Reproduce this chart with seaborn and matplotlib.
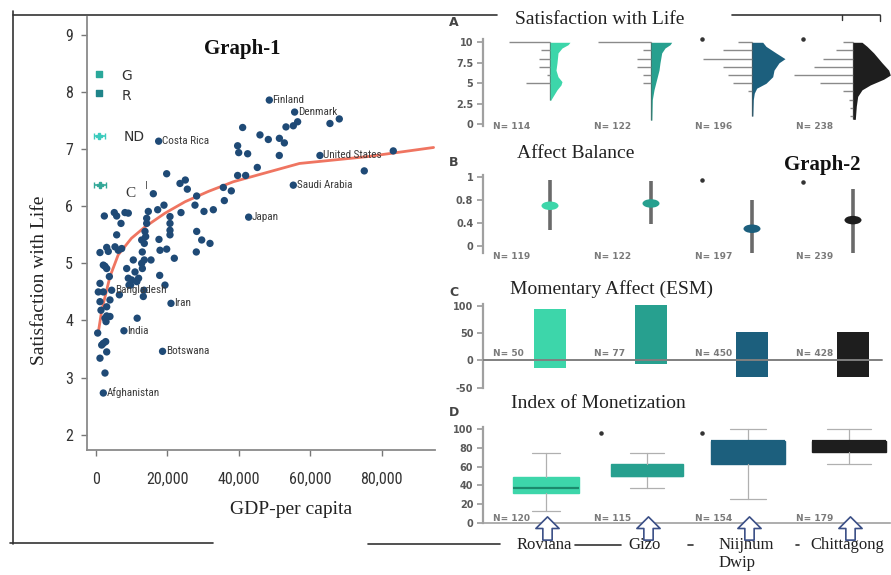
import numpy as np
import pandas as pd
import matplotlib
matplotlib.use("Agg")
import matplotlib.pyplot as plt
import seaborn as sns
from matplotlib.lines import Line2D
from matplotlib.path import Path
import matplotlib.transforms as mtransforms
from matplotlib import font_manager

sns.set_theme(style="white")
plt.rcParams['font.family'] = ['DejaVu Sans']
_installed = {f.name for f in font_manager.fontManager.ttflist}
NARROW = [f for f in ['Roboto Condensed', 'Liberation Sans Narrow', 'Roboto', 'DejaVu Sans']
          if f in _installed] or ['DejaVu Sans']
SERIF = ['Liberation Serif', 'DejaVu Serif']

# ---------------- Graph-1 data ----------------
gdp = [55270, 56480, 53220, 65520, 68130, 51380, 52770, 48280, 45950, 41100,
       39700, 40000, 42500, 51350, 45200, 83230, 75120, 39700, 41940, 35700,
       37930, 35980, 19850, 23580, 25070, 25630, 28240, 27770, 30290, 32900,
       23860, 16120, 17340, 19100, 14720, 14260, 20780, 20780, 20780, 20780,
       14260, 13790, 12870, 13600, 17700, 17990, 19860, 21990, 17900, 19380,
       28250, 29650, 31970, 28140, 2420, 5200, 5870, 8190, 9120, 7080,
       5870, 5400, 7270, 6320, 3080, 3520, 1200, 2600, 3080, 2130,
       8670, 11000, 9120, 10520, 13030, 13590, 15470, 11500, 12000, 10070,
       13510, 13320, 1200, 730, 1200, 1480, 3080, 2600, 3990, 3990,
       3080, 560, 11600, 2130, 2800, 3080, 1680, 1200, 2600, 3820,
       6620, 9320, 2890, 2140, 12860, 13050, 9760, 13980]
sat = [7.41, 7.48, 7.39, 7.45, 7.53, 7.19, 7.11, 7.17, 7.25, 7.38,
       7.06, 6.94, 6.92, 6.89, 6.68, 6.97, 6.62, 6.54, 6.54, 6.33,
       6.27, 6.10, 6.57, 6.40, 6.46, 6.30, 6.18, 6.02, 5.91, 5.94,
       5.89, 6.22, 5.94, 6.02, 5.91, 5.79, 5.82, 5.70, 5.58, 5.50,
       5.70, 5.56, 5.41, 5.35, 5.42, 5.23, 5.25, 5.09, 4.79, 4.62,
       5.56, 5.41, 5.35, 5.20, 5.83, 5.89, 5.83, 5.89, 5.88, 5.70,
       5.50, 5.29, 5.26, 5.23, 5.28, 5.21, 5.19, 4.95, 4.91, 4.97,
       4.91, 4.85, 4.74, 5.06, 5.20, 5.06, 5.06, 4.68, 4.74, 4.71,
       4.53, 4.42, 4.65, 4.50, 4.33, 4.18, 4.08, 4.04, 4.07, 4.36,
       4.24, 3.78, 4.04, 3.60, 3.63, 3.45, 3.57, 3.34, 3.08, 4.77,
       4.45, 4.62, 3.98, 4.50, 5.00, 4.91, 4.62, 5.47]

country_names = ['Finland', 'Denmark', 'Costa Rica', 'United States', 'Saudi Arabia',
                 'Japan', 'Bangladesh', 'Iran', 'India', 'Botswana', 'Afghanistan']
country_gdp = [48560, 55640, 17610, 62720, 55270, 42780, 4470, 21060, 7900, 18700, 2130]
country_sat = [7.86, 7.65, 7.14, 6.89, 6.37, 5.81, 4.53, 4.30, 3.82, 3.46, 2.73]

curve_gdp = [700, 1700, 4000, 6300, 10000, 13800, 19400, 25000, 31500, 38500, 57000, 76000, 94500]
curve_sat = [3.78, 4.18, 4.77, 5.15, 5.44, 5.64, 5.88, 6.08, 6.26, 6.43, 6.75, 6.87, 7.03]

local_codes = ['G', 'R', 'ND', 'C']
local_gdp = [900, 850, 1050, 1300]
local_sat = [8.31, 7.98, 7.23, 6.37]
local_gdp_err = [0, 0, 1500, 1700]

gdp_ticks = [0, 20000, 40000, 60000, 80000]
sat_ticks = [2, 3, 4, 5, 6, 7, 8, 9]

# ---------------- Graph-2 data ----------------
sites = ['Roviana', 'Gizo', 'Niijhum\nDwip', 'Chittagong']
site_colors = ['#3dd6aa', '#27a08f', '#1c5f7d', '#1e1e1e']

# A: Satisfaction with life (response counts per level + density outline)
swl_levels = [10, 9, 8, 7, 6, 5, 4, 3, 2, 1]
swl_counts_roviana = [47, 10, 13, 13, 4, 28, 0, 0, 0, 0]
swl_counts_gizo = [61, 9, 16, 16, 9, 9, 0, 0, 0, 0]
swl_counts_nd = [16, 33, 56, 33, 28, 22, 5, 0, 0, 0]
swl_counts_ctg = [11, 20, 34, 45, 68, 38, 11, 5, 4, 4]
dens_y_roviana = [10, 9.7, 9.3, 8.7, 7.5, 6.6, 5.8, 5.2, 4.8, 4.2, 3.4, 2.9]
dens_roviana = [20, 18, 12, 8, 7, 6, 8, 12, 11, 7, 3, 0.5]
dens_y_gizo = [10, 9.7, 9.3, 8.7, 7.5, 6.6, 5.5, 4.2, 3.0, 0.5]
dens_gizo = [20.7, 19, 14, 10.7, 9, 8, 5.7, 3, 1.3, 0.8]
dens_y_nd = [10, 9.5, 8.7, 8.0, 7.5, 6.6, 5.8, 5.0, 4.4, 3.8, 3.0, 1.0]
dens_nd = [10.7, 14, 24, 33, 27, 22, 20.7, 14, 4.7, 2.3, 1.3, 0.8]
dens_y_ctg = [10, 9.5, 8.7, 7.5, 6.6, 6.0, 5.5, 4.8, 4.2, 3.4, 2.2, 0.6]
dens_ctg = [9, 14, 20.7, 29, 35.7, 37.3, 30.7, 17.3, 9, 4.7, 3.3, 2.3]
n_A = [114, 122, 196, 238]
star_A_groups = [2, 3]
star_A_value = 10.37

# B: Affect balance
ab_mean = [0.70, 0.74, 0.30, 0.45]
ab_low = [0.28, 0.38, -0.12, -0.12]
ab_high = [1.14, 1.13, 0.80, 0.99]
n_B = [119, 122, 197, 239]
star_B_groups = [2, 3]
star_B_value = [1.15, 1.11]
ab_tick_labels = ['0', '0.4', '0.8', '1']

# C: Momentary affect (ESM)
esm_low = [-14.6, -7.3, -31, -31]
esm_high = [94, 101, 52.4, 52]
n_C = [50, 77, 450, 428]

# D: Index of monetization
mon_q1 = [31.5, 50.4, 62.6, 75.4]
mon_med = [37.5, 50.4, 87.6, 87.6]
mon_q3 = [49.3, 62.6, 87.6, 87.6]
mon_wlo = [12.5, 36.9, 25, 62.9]
mon_whi = [75, 75, 100, 100]
n_D = [120, 115, 154, 179]
star_D_groups = [1, 2]
star_D_value = 95.8

# ---------------- figure ----------------
W, H = 891, 575
fig = plt.figure(figsize=(W / 100, H / 100), dpi=100)


def box(l, t, r, b):
    return [l / W, 1 - b / H, (r - l) / W, (b - t) / H]


def fx(px):
    return px / W


def fy(py):
    return 1 - py / H


# ---- Graph-1 ----
ax1 = fig.add_axes(box(87, 17, 435, 450))
df = pd.DataFrame({'gdp': gdp + country_gdp, 'sat': sat + country_sat})
sns.scatterplot(data=df, x='gdp', y='sat', color='#1f4a76', s=28, edgecolor='none',
                ax=ax1, zorder=3)
ax1.plot(curve_gdp, curve_sat, color='#ee6650', lw=2.0, zorder=2, alpha=0.9)
for name, gx, sy in zip(country_names, country_gdp, country_sat):
    ax1.text(gx + 900, sy, name, fontsize=8, family=NARROW, color='#3a3a3a',
             va='center', ha='left', zorder=4)

local_cols = ['#2aa89a', '#1f8489', '#3ccbbd', '#33a898']
for code, gx, sy, ex, c in zip(local_codes, local_gdp, local_sat, local_gdp_err, local_cols):
    if ex > 0:
        ax1.errorbar(gx, sy, xerr=ex, fmt='P', color=c, ms=5, capsize=2, lw=1.2, zorder=3)
    else:
        ax1.scatter([gx], [sy], marker='s', color=c, s=18, zorder=3)
ax1.text(7200, 8.29, 'G', fontsize=10, color='#333333', va='center')
ax1.text(7200, 7.93, 'R', fontsize=10, color='#333333', va='center')
ax1.text(7700, 7.22, 'ND', fontsize=10, color='#333333', va='center')
ax1.text(8400, 6.23, 'C', fontsize=11, color='#333333', va='center', family=SERIF)
ax1.text(13900, 6.35, 'I', fontsize=7, color='#555555', va='center')

ax1.set_xlim(-2430, 94900)
ax1.set_ylim(1.732, 9.315)
ax1.set_xticks(gdp_ticks)
ax1.set_xticklabels([f'{v:,}' for v in gdp_ticks])
ax1.set_yticks(sat_ticks)
ax1.set_yticklabels([str(v) for v in sat_ticks])
for lab in ax1.get_xticklabels() + ax1.get_yticklabels():
    lab.set_family(NARROW)
    lab.set_fontsize(11.5)
    lab.set_color('#333333')
ax1.tick_params(axis='x', length=4, width=1, color='#777777', pad=12, direction='out', bottom=True)
ax1.tick_params(axis='y', length=4, width=1, color='#777777', pad=6, direction='out', left=True)
for s in ['top', 'right']:
    ax1.spines[s].set_visible(False)
for s in ['left', 'bottom']:
    ax1.spines[s].set_color('#8a8a8a')
    ax1.spines[s].set_linewidth(1.3)
ax1.set_xlabel('')
ax1.set_ylabel('')
fig.text(fx(40), fy(280), 'Satisfaction with Life', rotation=90, family=SERIF,
         fontsize=14, color='#222222', ha='center', va='center')
fig.text(fx(291), fy(510), 'GDP-per capita', family=SERIF, fontsize=14,
         color='#222222', ha='center', va='center')
fig.text(fx(242), fy(49), 'Graph-1', family=SERIF, fontsize=15, fontweight='bold',
         color='#111111', ha='center', va='center')

# ---- Graph-2 panels ----
pos = np.arange(len(sites))
xl = (-(550 - 483) / 101, (890 - 550) / 101)


def style_right(ax, ticks, labels, ylim):
    ax.set_xlim(*xl)
    ax.set_ylim(*ylim)
    ax.set_xticks([])
    ax.set_yticks(ticks)
    ax.set_yticklabels(labels)
    for lab in ax.get_yticklabels():
        lab.set_fontsize(7)
        lab.set_color('#5a5a5a')
        lab.set_fontweight('bold')
    ax.tick_params(axis='y', length=4, width=1.2, color='#999999', pad=3, left=True)
    for s in ['top', 'right', 'bottom']:
        ax.spines[s].set_visible(False)
    ax.spines['left'].set_color('#a0a0a0')
    ax.spines['left'].set_linewidth(1.6)
    ax.set_xlabel('')
    ax.set_ylabel('')
    ax.patch.set_alpha(0)


def n_labels(ax, ns, yv):
    for p, n in zip(pos, ns):
        ax.text(p - 0.56, yv, f'N= {n}', fontsize=6.5, color='#7a7a7a', ha='left',
                va='center', clip_on=False, fontweight='bold')


# A
axA = fig.add_axes(box(483, 39, 890, 126))
dens_ys = [dens_y_roviana, dens_y_gizo, dens_y_nd, dens_y_ctg]
dens_ws = [dens_roviana, dens_gizo, dens_nd, dens_ctg]
counts = [swl_counts_roviana, swl_counts_gizo, swl_counts_nd, swl_counts_ctg]
for i in range(len(sites)):
    yv = np.array(dens_ys[i])
    wv = np.array(dens_ws[i]) / 101
    axA.fill_betweenx(yv, i, i + wv, color=site_colors[i], lw=0, zorder=2)
    axA.vlines(i, min(yv), 10, color='#555555', lw=0.9, zorder=1)
    cv = np.array(counts[i]) * 0.87 / 101
    lv = np.array(swl_levels)
    m = cv > 0
    axA.hlines(lv[m], i - cv[m], i, color='#8a8a8a', lw=1.0, zorder=1)
axA.scatter(np.array(star_A_groups) - 0.5, [star_A_value] * len(star_A_groups), s=5,
            color='#333333', clip_on=False)
style_right(axA, [0, 2.5, 5, 7.5, 10], ['0', '2.5', '5', '7.5', '10'], (-0.21, 10.4))
n_labels(axA, n_A, -0.25)

# B
axB = fig.add_axes(box(483, 175, 890, 253))
axB.vlines(pos, ab_low, ab_high, color='#6a6a6a', lw=2.6, zorder=1)
ell = Path.unit_circle().transformed(mtransforms.Affine2D().scale(1, 0.5))
dfB = pd.DataFrame({'site': sites, 'pos': pos, 'ab': ab_mean})
sns.scatterplot(data=dfB, x='pos', y='ab', hue='site', palette=site_colors, marker=ell,
                s=150, edgecolor='none', legend=False, ax=axB, zorder=3)
axB.scatter(np.array(star_B_groups) - 0.5, star_B_value, s=5, color='#333333', clip_on=False)
style_right(axB, [0, 0.4, 0.8, 1.2], ab_tick_labels, (-0.122, 1.235))
n_labels(axB, n_B, -0.19)

# C
axC = fig.add_axes(box(483, 304, 890, 388))
axC.bar(pos, np.array(esm_high) - np.array(esm_low), bottom=esm_low, width=0.31,
        color=site_colors, lw=0, zorder=2)
axC.axhline(0, xmin=0, xmax=0.98, color='#808080', lw=1.4, zorder=3)
style_right(axC, [-50, 0, 50, 100], ['-50', '0', '50', '100'], (-50.7, 103.1))
n_labels(axC, n_C, 13)

# D
axD = fig.add_axes(box(483, 427, 890, 523))
stats = []
for i in range(len(sites)):
    stats.append({'q1': mon_q1[i], 'med': mon_med[i], 'q3': mon_q3[i],
                  'whislo': mon_wlo[i], 'whishi': mon_whi[i], 'fliers': []})
bp = axD.bxp(stats, positions=pos - 0.04, widths=[0.65, 0.72, 0.74, 0.74],
             capwidths=[0.28, 0.33, 0.35, 0.43], patch_artist=True, showfliers=False,
             manage_ticks=False,
             whiskerprops=dict(color='#b0b0b0', lw=0.9),
             capprops=dict(color='#b0b0b0', lw=0.9),
             medianprops=dict(color='#1b8a6c', lw=1.6))
med_cols = ['#1b8a6c', '#27a08f', '#1c5f7d', '#1e1e1e']
for i, b in enumerate(bp['boxes']):
    b.set_facecolor(site_colors[i])
    b.set_edgecolor(site_colors[i])
    b.set_linewidth(1.0)
for i, mline in enumerate(bp['medians']):
    mline.set_color(med_cols[i])
axD.scatter(np.array(star_D_groups) - 0.5, [star_D_value] * len(star_D_groups), s=5,
            color='#333333', clip_on=False)
style_right(axD, [0, 20, 40, 60, 80, 100], ['0', '20', '40', '60', '80', '100'], (-0.3, 102.6))
axD.spines['bottom'].set_visible(True)
axD.spines['bottom'].set_color('#a0a0a0')
axD.spines['bottom'].set_linewidth(1.2)
n_labels(axD, n_D, 5)

# arrows and site names under D
arrow_path = Path([(0, 0.5), (0.5, 0), (0.2, 0), (0.2, -0.5), (-0.2, -0.5), (-0.2, 0),
                   (-0.5, 0), (0, 0.5)], closed=True)
axD.scatter(pos - 0.03, [-6] * len(pos), marker=arrow_path, s=280, facecolor='white',
            edgecolor='#3b4f86', linewidth=1.2, clip_on=False, zorder=5)
blend = mtransforms.blended_transform_factory(axD.transData, fig.transFigure)
for p, name in zip(pos, sites):
    axD.text(p - 0.06, fy(537), name, transform=blend, family=SERIF, fontsize=12,
             color='#222222', ha='center', va='top', multialignment='left',
             linespacing=1.15, clip_on=False)

# panel titles and letters
for letter, title, ly, ty, tx in [('A', 'Satisfaction with Life', 22, 19, 600),
                                  ('B', 'Affect Balance', 162, 153, 576),
                                  ('C', 'Momentary Affect (ESM)', 292, 289, 611),
                                  ('D', 'Index of Monetization', 412, 404, 598)]:
    fig.text(fx(454), fy(ly), letter, fontsize=9, fontweight='bold', color='#444444',
             ha='center', va='center')
    fig.text(fx(tx), fy(ty), title, family=SERIF, fontsize=14, color='#222222',
             ha='center', va='center')
fig.text(fx(822), fy(165), 'Graph-2', family=SERIF, fontsize=15, fontweight='bold',
         color='#111111', ha='center', va='center')

# document frame lines
def hline(x1, x2, y, lw=1.2, c='#333333'):
    fig.add_artist(Line2D([fx(x1), fx(x2)], [fy(y), fy(y)], color=c, lw=lw))


def vline(x, y1, y2, lw=1.2, c='#333333'):
    fig.add_artist(Line2D([fx(x), fx(x)], [fy(y1), fy(y2)], color=c, lw=lw))


hline(13, 497, 15)
hline(732, 880, 15)
vline(842, 15, 20, lw=1.0)
vline(880, 15, 21, lw=1.0)
vline(13, 11, 544)
hline(10, 213, 543)
hline(368, 500, 544)
hline(575, 621, 545)
hline(688, 693, 545)
hline(796, 799, 545)

fig.savefig('out.png', dpi=100)
